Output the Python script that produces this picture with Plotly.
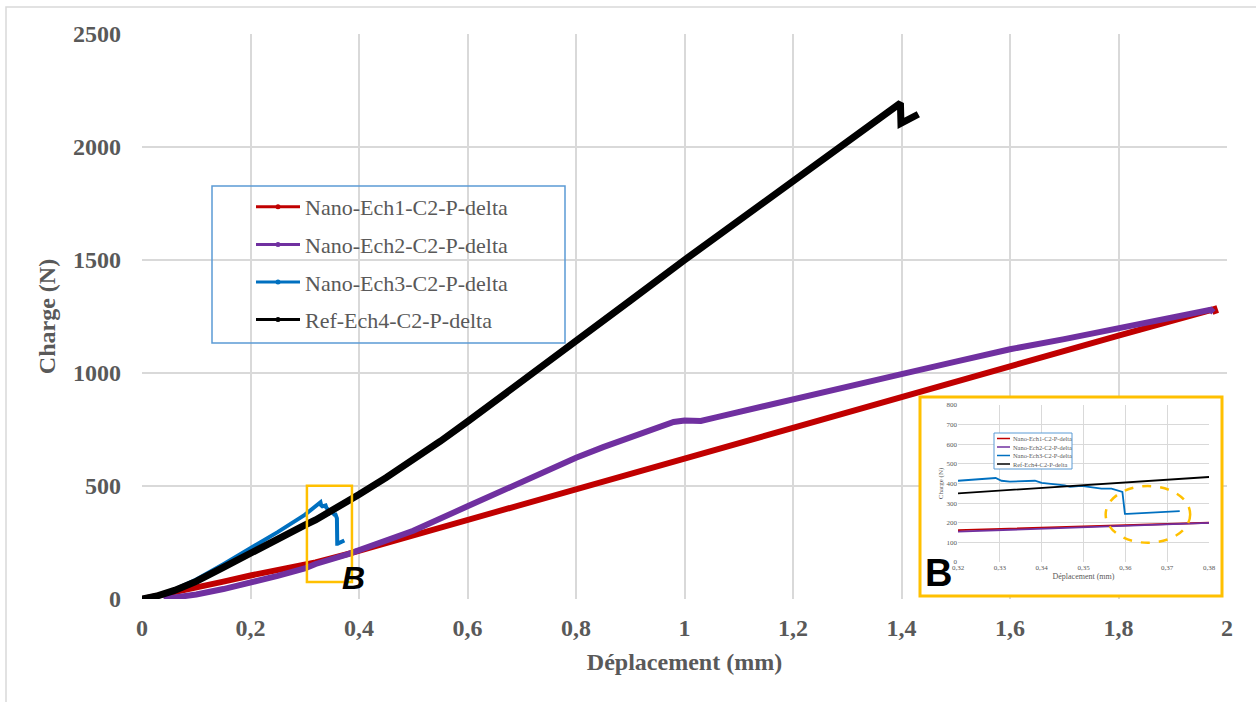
import plotly.graph_objects as go

# ---------------- data ----------------
names = ["Nano-Ech1-C2-P-delta", "Nano-Ech2-C2-P-delta",
         "Nano-Ech3-C2-P-delta", "Ref-Ech4-C2-P-delta"]
colors = ["#C00000", "#7030A0", "#0070C0", "#000000"]

ech1_x = [0, 0.05, 0.1, 0.15, 0.2, 0.25, 0.3, 0.32, 0.38, 0.5, 0.6, 0.7, 0.8,
          0.9, 1.0, 1.2, 1.4, 1.6, 1.8, 1.97, 1.977, 1.98]
ech1_y = [0, 24, 50, 77, 104, 129, 152, 162, 200, 282, 350, 418, 486,
          554, 622, 758, 894, 1030, 1165, 1278, 1283, 1262]

ech2_x = [0.04, 0.07, 0.1, 0.15, 0.2, 0.25, 0.3, 0.32, 0.38, 0.45, 0.5, 0.6,
          0.7, 0.8, 0.85, 0.9, 0.95, 0.98, 1.0, 1.03, 1.06, 1.1, 1.2, 1.3,
          1.4, 1.5, 1.6, 1.7, 1.8, 1.9, 1.97, 1.975]
ech2_y = [0, 8, 20, 44, 72, 102, 135, 155, 199, 257, 302, 410,
          518, 625, 672, 715, 757, 783, 790, 788, 805, 828, 886, 942,
          995, 1050, 1105, 1150, 1200, 1248, 1280, 1268]

ech3_x = [0, 0.03, 0.06, 0.1, 0.15, 0.2, 0.25, 0.3, 0.32, 0.329, 0.3304,
          0.3324, 0.3384, 0.34, 0.3455, 0.3468, 0.3495, 0.3543, 0.3567,
          0.3593, 0.3599, 0.3605, 0.373]
ech3_y = [0, 16, 42, 86, 154, 224, 296, 372, 414, 428, 414,
          410, 414, 403, 391, 383, 388, 374, 374,
          357, 245, 245, 259]

ref4_x = [0, 0.03, 0.06, 0.1, 0.15, 0.2, 0.25, 0.3, 0.32, 0.35, 0.38, 0.4,
          0.45, 0.5, 0.55, 0.6, 0.65, 0.7, 0.8, 0.9, 1.0, 1.1, 1.2, 1.3,
          1.398, 1.399, 1.41, 1.431]
ref4_y = [0, 15, 38, 78, 140, 205, 268, 327, 350, 390, 433, 462,
          537, 615, 698, 785, 873, 962, 1140, 1320, 1500, 1676, 1852, 2024,
          2194, 2105, 2118, 2145]

x_tick_vals = [0, 0.2, 0.4, 0.6, 0.8, 1.0, 1.2, 1.4, 1.6, 1.8, 2.0]
x_tick_text = ["0", "0,2", "0,4", "0,6", "0,8", "1", "1,2", "1,4", "1,6", "1,8", "2"]
y_tick_vals = [0, 500, 1000, 1500, 2000, 2500]

inset_x_vals = [0.32, 0.33, 0.34, 0.35, 0.36, 0.37, 0.38]
inset_x_text = ["0,32", "0,33", "0,34", "0,35", "0,36", "0,37", "0,38"]
inset_y_vals = [0, 100, 200, 300, 400, 500, 600, 700, 800]

series_x = [ech1_x, ech2_x, ech3_x, ref4_x]
series_y = [ech1_y, ech2_y, ech3_y, ref4_y]
main_widths = [6, 6, 4, 7]

# ---------------- figure ----------------
SERIF = "Liberation Serif, Times New Roman, serif"
SANS = "Liberation Sans, Arial, sans-serif"
GREY = "#595959"
GRID = "#d9d9d9"
ORANGE = "#FFC000"
LBLUE = "#5B9BD5"


def px2x(p):
    return (p - 142) / 1085.0


def px2y(p):
    return (599 - p) / 565.0


fig = go.Figure()

# main curves
for nm, c, xs, ys, w in zip(names, colors, series_x, series_y, main_widths):
    fig.add_trace(go.Scatter(x=xs, y=ys, mode="lines", name=nm,
                             line=dict(color=c, width=w),
                             legendgroup=nm, showlegend=False,
                             xaxis="x", yaxis="y"))
# legend entries of the main chart (thin line + dot as in Excel)
for nm, c in zip(names, colors):
    fig.add_trace(go.Scatter(x=[None], y=[None], mode="lines+markers", name=nm,
                             line=dict(color=c, width=3),
                             marker=dict(color=c, size=5),
                             legendgroup=nm, showlegend=True,
                             xaxis="x", yaxis="y"))

# blank background subplot for the inset frame
fig.add_trace(go.Scatter(x=[None], y=[None], mode="lines", showlegend=False,
                         hoverinfo="skip", xaxis="x2", yaxis="y2"))

# inset curves (zoom on zone B)
for nm, c, xs, ys in zip(names, colors, series_x, series_y):
    fig.add_trace(go.Scatter(x=xs, y=ys, mode="lines", name=nm,
                             line=dict(color=c, width=1.8),
                             showlegend=False,
                             xaxis="x3", yaxis="y3"))

shapes = [
    # outer chart-area frame (top and left edges visible)
    dict(type="rect", xref="paper", yref="paper",
         x0=px2x(6), x1=px2x(1270), y0=px2y(715), y1=px2y(7),
         line=dict(color=GRID, width=1.5), layer="below"),
    # main legend border
    dict(type="rect", xref="paper", yref="paper",
         x0=px2x(212), x1=px2x(565), y0=px2y(343), y1=px2y(186),
         line=dict(color=LBLUE, width=1.5), layer="above"),
    # orange highlight box "B" on the main chart
    dict(type="rect", xref="x", yref="y", x0=0.304, x1=0.387, y0=75, y1=501,
         line=dict(color=ORANGE, width=2.5), layer="above"),
    # inset frame
    dict(type="rect", xref="paper", yref="paper",
         x0=px2x(920), x1=px2x(1222), y0=px2y(596), y1=px2y(397),
         line=dict(color=ORANGE, width=3), layer="above"),
    # dashed ellipse in the inset
    dict(type="circle", xref="x3", yref="y3", x0=0.3553, x1=0.3755, y0=98, y1=387,
         line=dict(color=ORANGE, width=2.5, dash="dash"), layer="above"),
    # inset legend box
    dict(type="rect", xref="paper", yref="paper",
         x0=px2x(994), x1=px2x(1072), y0=px2y(469), y1=px2y(433),
         line=dict(color=LBLUE, width=1), fillcolor="white", layer="above"),
]

annotations = [
    dict(text="<b><i>B</i></b>", xref="paper", yref="paper",
         x=px2x(353), y=px2y(578), showarrow=False,
         xanchor="center", yanchor="middle",
         font=dict(family=SANS, size=32, color="black")),
    dict(text="<b>B</b>", xref="paper", yref="paper",
         x=px2x(938), y=px2y(573), showarrow=False,
         xanchor="center", yanchor="middle",
         font=dict(family=SANS, size=38, color="black")),
]

# inset legend (small, Excel-like)
inset_rows = [438.5, 447.0, 455.5, 464.0]
for nm, c, ry in zip(names, colors, inset_rows):
    shapes.append(dict(type="line", xref="paper", yref="paper",
                       x0=px2x(997), x1=px2x(1010), y0=px2y(ry), y1=px2y(ry),
                       line=dict(color=c, width=1.5), layer="above"))
    annotations.append(dict(text=nm, xref="paper", yref="paper",
                            x=px2x(1011), y=px2y(ry), showarrow=False,
                            xanchor="left", yanchor="middle",
                            font=dict(family=SERIF, size=6.4, color=GREY)))

fig.update_layout(
    width=1256, height=702,
    margin=dict(l=142, r=29, t=34, b=103),
    paper_bgcolor="white", plot_bgcolor="white",
    separators=", ",
    font=dict(family=SERIF, color=GREY),
    xaxis=dict(domain=[0, 1], range=[0, 2], tickmode="array",
               tickvals=x_tick_vals, ticktext=x_tick_text,
               showgrid=True, gridcolor=GRID, gridwidth=1.5,
               zeroline=False, showline=False, ticks="",
               ticklabelstandoff=12,
               tickfont=dict(family=SERIF, size=24, color=GREY, weight="bold"),
               title=dict(text="Déplacement (mm)", standoff=13,
                          font=dict(family=SERIF, size=24, color=GREY, weight="bold"))),
    yaxis=dict(domain=[0, 1], range=[0, 2500], tickmode="array",
               tickvals=y_tick_vals,
               showgrid=True, gridcolor=GRID, gridwidth=1.5,
               zeroline=False, showline=False, ticks="",
               ticklabelstandoff=20,
               tickfont=dict(family=SERIF, size=24, color=GREY, weight="bold"),
               title=dict(text="Charge (N)", standoff=10,
                          font=dict(family=SERIF, size=24, color=GREY, weight="bold"))),
    xaxis2=dict(domain=[px2x(921), px2x(1221)], anchor="y2", visible=False,
                range=[0, 1], fixedrange=True),
    yaxis2=dict(domain=[px2y(595), px2y(398)], anchor="x2", visible=False,
                range=[0, 1], fixedrange=True),
    xaxis3=dict(domain=[px2x(958), px2x(1209)], anchor="y3", range=[0.32, 0.38],
                tickmode="array", tickvals=inset_x_vals, ticktext=inset_x_text,
                showgrid=True, gridcolor=GRID, gridwidth=1,
                zeroline=False, showline=False, ticks="",
                tickfont=dict(family=SERIF, size=7, color=GREY),
                title=dict(text="Déplacement (mm)", standoff=2,
                           font=dict(family=SERIF, size=8, color=GREY))),
    yaxis3=dict(domain=[px2y(562), px2y(405)], anchor="x3", range=[0, 800],
                tickmode="array", tickvals=inset_y_vals,
                showgrid=True, gridcolor=GRID, gridwidth=1,
                zeroline=False, showline=False, ticks="",
                tickfont=dict(family=SERIF, size=7, color=GREY),
                title=dict(text="Charge (N)", standoff=2,
                           font=dict(family=SERIF, size=7, color=GREY))),
    legend=dict(x=px2x(251), y=px2y(186), xanchor="left", yanchor="top",
                bgcolor="rgba(0,0,0,0)", borderwidth=0,
                font=dict(family=SERIF, size=22, color=GREY),
                itemwidth=44, tracegroupgap=6),
    showlegend=True,
    shapes=shapes,
    annotations=annotations,
)

fig.write_html("out.html", config={"displayModeBar": False},
               post_script="document.body.style.margin='0px';")
